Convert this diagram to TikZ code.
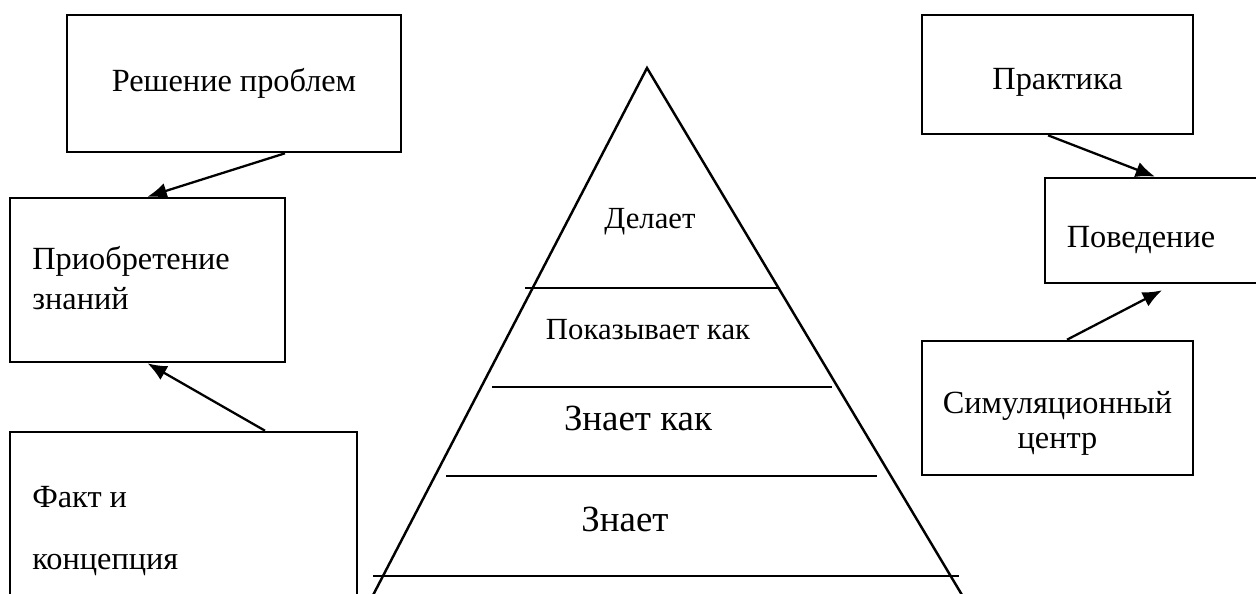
\documentclass[tikz,border=0pt]{standalone}
\usepackage{fontspec}
\setmainfont{Liberation Serif}
\usetikzlibrary{arrows.meta,positioning,calc}

\begin{document}
\begin{tikzpicture}[x=0.02cm,y=-0.02cm,
        box/.style={draw, line width=1.5pt, inner sep=0pt},
        arr/.style={line width=1.3pt, -{Latex[length=11pt,width=9pt]}},
        txt/.style={font=\fontsize{18.4}{22}\selectfont, inner sep=0pt},
        smalltxt/.style={font=\fontsize{17.5}{21}\selectfont, inner sep=0pt},
        bigtxt/.style={font=\fontsize{21}{25}\selectfont, inner sep=0pt},
        tier/.style={line width=1.4pt}]
        \clip (0,0) rectangle (1256,594);

        % Left boxes
        \node[box, txt, minimum width=6.68cm, minimum height=2.74cm] (resh) at (234,83.5) {Решение проблем};
        \node[box, minimum width=5.5cm, minimum height=3.28cm] (znan) at (147.5,280) {};
        \node[txt, anchor=west] (znan1) at (32,261) {Приобретение};
        \node[txt, anchor=west] (znan2) at (32,299) {знаний};
        \node[box, minimum width=6.94cm, minimum height=4.36cm] (fakt) at (183.5,541) {};
        \node[txt, anchor=west] (fakt1) at (32,497) {Факт и};
        \node[txt, anchor=west] (fakt2) at (32,565) {концепция};

        % Left arrows
        \draw[arr] ([xshift=1.02cm]resh.south) -- (znan.north);
        \draw[arr] ([xshift=1.63cm]fakt.north) -- (znan.south);

        % Pyramid
        \draw[tier] (370.5,600) -- (647,68) -- (965,600);
        \draw[tier] (525,288) -- (779,288);
        \draw[tier] (492,387) -- (832,387);
        \draw[tier] (446,476) -- (877,476);
        \draw[tier] (373,576) -- (959,576);
        \node[smalltxt] (does) at (650,222) {Делает};
        \node[smalltxt] (shows) at (648,330) {Показывает как};
        \node[bigtxt] (knowshow) at (638,418) {Знает как};
        \node[bigtxt] (knows) at (625,519) {Знает};

        % Right boxes
        \node[box, minimum width=5.42cm, minimum height=2.38cm] (prak) at (1057.5,74.5) {};
        \node[txt] (prak1) at (1057.5,82) {Практика};
        \node[box, minimum width=4.9cm, minimum height=2.1cm] (poved) at (1167.5,230.5) {};
        \node[txt] (poved1) at (1141,240) {Поведение};
        \node[box, minimum width=5.42cm, minimum height=2.68cm] (sim) at (1057.5,408) {};
        \node[txt, anchor=base] (sim1) at (1057.5,413) {Симуляционный};
        \node[txt, anchor=base] (sim2) at (1057.5,448) {центр};

        % Right arrows
        \draw[arr] ([xshift=-0.19cm]prak.south) -- ([xshift=-0.25cm]poved.north);
        \draw[arr] ([xshift=0.19cm]sim.north) -- ([xshift=-0.11cm,yshift=-0.12cm]poved.south);
    \end{tikzpicture}
\end{document}
